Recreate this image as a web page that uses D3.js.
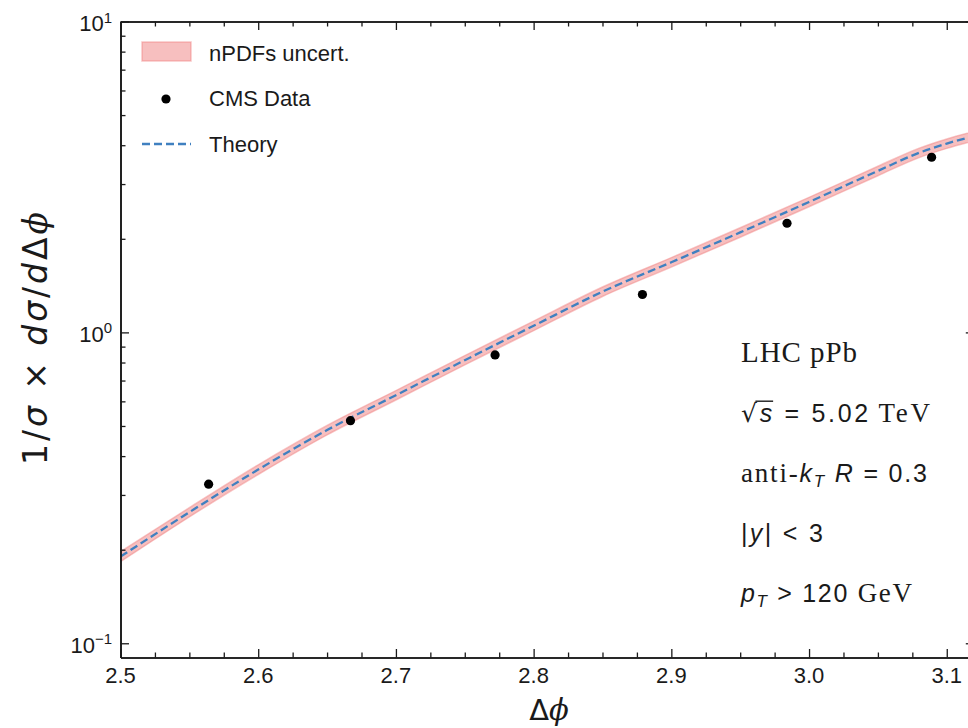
<!DOCTYPE html>
<html>
<head>
<meta charset="utf-8">
<script src="https://cdn.jsdelivr.net/npm/d3@7"></script>
<style>
  html, body { margin: 0; padding: 0; background: #fff; }
  svg { display: block; }
</style>
</head>
<body>
<svg id="chart" width="968" height="728"></svg>
<script>
// Azimuthal decorrelation of dijets, LHC pPb at 5.02 TeV

// Theory prediction (central value) and nPDF uncertainty envelope
const theoryPhi   = [2.50, 2.55, 2.60, 2.65, 2.70, 2.75, 2.80, 2.85, 2.90, 2.95, 3.00, 3.05, 3.08, 3.10, 3.12];
const theoryValue = [0.190, 0.264, 0.362, 0.485, 0.628, 0.814, 1.050, 1.352, 1.681, 2.097, 2.627, 3.307, 3.782, 4.049, 4.282];
const bandLower   = [0.183, 0.255, 0.349, 0.468, 0.606, 0.786, 1.013, 1.305, 1.622, 2.024, 2.535, 3.191, 3.650, 3.907, 4.132];
const bandUpper   = [0.197, 0.273, 0.375, 0.502, 0.650, 0.842, 1.087, 1.399, 1.740, 2.170, 2.719, 3.423, 3.914, 4.191, 4.432];

// CMS measurement
const dataPhi   = [2.564, 2.667, 2.772, 2.879, 2.984, 3.089];
const dataValue = [0.325, 0.520, 0.846, 1.324, 2.244, 3.659];

// Axis ticks
const xTicks = [2.5, 2.6, 2.7, 2.8, 2.9, 3.0, 3.1];
const xTickLabels = ["2.5", "2.6", "2.7", "2.8", "2.9", "3.0", "3.1"];
const yTicks = [0.1, 1, 10];
const yTickExponents = ["\u22121", "0", "1"];
const legendLabels = ["nPDFs uncert.", "CMS Data", "Theory"];

const svg = d3.select("#chart");
const plotLeft = 120.5, plotRight = 974.3, plotTop = 21.5, plotBottom = 657.5;

const x = d3.scaleLinear().domain([2.5, 3.12]).range([plotLeft, plotRight]);
const y = d3.scaleLog().domain([0.09, 10]).range([plotBottom, plotTop]);

const sans = "'Liberation Sans', Arial, sans-serif";
const serif = "'Liberation Serif', 'Times New Roman', serif";
const dejavu = "'DejaVu Sans', sans-serif";
const ink = "#1a1a1a";

svg.append("clipPath").attr("id", "plotClip")
  .append("rect").attr("x", plotLeft).attr("y", plotTop)
  .attr("width", plotRight - plotLeft).attr("height", plotBottom - plotTop);

const plot = svg.append("g").attr("clip-path", "url(#plotClip)");

// uncertainty band
const band = theoryPhi.map((p, i) => ({ p, lo: bandLower[i], hi: bandUpper[i] }));
plot.append("path")
  .datum(band)
  .attr("d", d3.area().x(d => x(d.p)).y0(d => y(d.lo)).y1(d => y(d.hi)).curve(d3.curveMonotoneX))
  .attr("fill", "#f08080").attr("fill-opacity", 0.5)
  .attr("stroke", "#f08080").attr("stroke-opacity", 0.45).attr("stroke-width", 1.5);

// theory central line
const theory = theoryPhi.map((p, i) => ({ p, v: theoryValue[i] }));
plot.append("path")
  .datum(theory)
  .attr("d", d3.line().x(d => x(d.p)).y(d => y(d.v)).curve(d3.curveMonotoneX))
  .attr("fill", "none")
  .attr("stroke", "#4080c0").attr("stroke-width", 2.3)
  .attr("stroke-dasharray", "8,4");

// data points
plot.selectAll("circle.data")
  .data(dataPhi.map((p, i) => ({ p, v: dataValue[i] })))
  .join("circle").attr("class", "data")
  .attr("cx", d => x(d.p)).attr("cy", d => y(d.v))
  .attr("r", 4.6).attr("fill", "#000");

// axes: ticks pointing inward on all four sides
const major = 8.5, minor = 5;
const xMinor = d3.range(2.5, 3.12 + 1e-9, 0.025).filter(v => Math.abs(v * 10 - Math.round(v * 10)) > 1e-6);
const yMinor = [];
[0.1, 1].forEach(dec => { for (let k = 2; k <= 9; k++) yMinor.push(k * dec); });

function styleAxis(g) {
  g.selectAll("path.domain").attr("stroke", ink).attr("stroke-width", 1.6);
  g.selectAll(".tick line").attr("stroke", ink).attr("stroke-width", 1.3);
  g.selectAll(".tick text").remove();
}

[[d3.axisBottom, plotBottom], [d3.axisTop, plotTop]].forEach(([ax, pos]) => {
  svg.append("g").attr("transform", `translate(0,${pos})`)
    .call(ax(x).tickValues(xTicks).tickSize(-major).tickSizeOuter(0)).call(styleAxis);
  svg.append("g").attr("transform", `translate(0,${pos})`)
    .call(ax(x).tickValues(xMinor).tickSize(-minor).tickSizeOuter(0)).call(styleAxis);
});
[[d3.axisLeft, plotLeft], [d3.axisRight, plotRight]].forEach(([ax, pos]) => {
  svg.append("g").attr("transform", `translate(${pos},0)`)
    .call(ax(y).tickValues(yTicks).tickSize(-major).tickSizeOuter(0)).call(styleAxis);
  svg.append("g").attr("transform", `translate(${pos},0)`)
    .call(ax(y).tickValues(yMinor).tickSize(-minor).tickSizeOuter(0)).call(styleAxis);
});

// x tick labels
svg.append("g").selectAll("text")
  .data(xTicks)
  .join("text")
  .attr("x", d => x(d)).attr("y", plotBottom + 25.8)
  .attr("text-anchor", "middle")
  .attr("font-family", sans).attr("font-size", 22).attr("fill", ink)
  .text((d, i) => xTickLabels[i]);

// y tick labels, powers of ten
const yl = svg.append("g").selectAll("text")
  .data(yTicks)
  .join("text")
  .attr("x", 112).attr("y", d => y(d) + 9.5)
  .attr("text-anchor", "end")
  .attr("font-family", sans).attr("font-size", 22).attr("fill", ink);
yl.append("tspan").text("10");
yl.append("tspan").attr("font-size", 15).attr("dy", -8.5).text((d, i) => yTickExponents[i]);

// axis titles
const xt = svg.append("text")
  .attr("x", 549).attr("y", 720).attr("text-anchor", "middle")
  .attr("font-family", dejavu).attr("font-size", 29).attr("fill", ink);
xt.append("tspan").text("\u0394");
xt.append("tspan").attr("font-style", "italic").attr("font-family", "'DejaVu Serif', serif").text("\u03d5");

const ytl = svg.append("text")
  .attr("transform", "translate(46.5,338.5) rotate(-90)")
  .attr("text-anchor", "middle")
  .attr("font-family", dejavu).attr("font-size", 33).attr("fill", ink)
  .attr("textLength", 253).attr("lengthAdjust", "spacing");
ytl.append("tspan").text("1/");
ytl.append("tspan").attr("font-style", "italic").text("\u03c3");
ytl.append("tspan").text(" \u00d7 ");
ytl.append("tspan").attr("font-style", "italic").text("d\u03c3");
ytl.append("tspan").text("/");
ytl.append("tspan").attr("font-style", "italic").text("d");
ytl.append("tspan").text("\u0394");
ytl.append("tspan").attr("font-style", "italic").attr("font-family", "'DejaVu Serif', serif").text("\u03d5");

// legend
const lg = svg.append("g");
lg.append("rect").attr("x", 142).attr("y", 42).attr("width", 49).attr("height", 19)
  .attr("fill", "#f08080").attr("fill-opacity", 0.5)
  .attr("stroke", "#f08080").attr("stroke-opacity", 0.45).attr("stroke-width", 1.5);
lg.append("circle").attr("cx", 166).attr("cy", 99).attr("r", 4.6).attr("fill", "#000");
lg.append("line").attr("x1", 142).attr("x2", 191).attr("y1", 144).attr("y2", 144)
  .attr("stroke", "#4080c0").attr("stroke-width", 2.3).attr("stroke-dasharray", "8,4");
lg.selectAll("text.leg")
  .data(legendLabels)
  .join("text").attr("class", "leg")
  .attr("x", 209).attr("y", (d, i) => 60.5 + i * 45.5)
  .attr("font-family", sans).attr("font-size", 22).attr("fill", ink)
  .text(d => d);

// run conditions
const ann = svg.append("g").attr("fill", ink);
const ax0 = 741;

ann.append("text").attr("x", ax0).attr("y", 362)
  .attr("font-family", serif).attr("font-size", 29)
  .attr("textLength", 116).attr("lengthAdjust", "spacing")
  .text("LHC pPb");

const rs = ann.append("text").attr("x", ax0).attr("y", 422)
  .attr("font-family", sans).attr("font-size", 25)
  .attr("textLength", 189).attr("lengthAdjust", "spacing");
rs.append("tspan").attr("font-family", dejavu).text("\u221a");
rs.append("tspan").attr("font-style", "italic").text("s");
rs.append("tspan").text(" = 5.02\u2009");
rs.append("tspan").attr("font-family", serif).attr("font-size", 27).text("TeV");

const ak = ann.append("text").attr("x", ax0).attr("y", 482)
  .attr("font-family", sans).attr("font-size", 25)
  .attr("textLength", 186).attr("lengthAdjust", "spacing");
ak.append("tspan").attr("font-family", serif).attr("font-size", 27).text("anti-");
ak.append("tspan").attr("font-style", "italic").text("k");
ak.append("tspan").attr("font-style", "italic").attr("font-size", 17).attr("dy", 5).text("T");
ak.append("tspan").attr("font-style", "italic").attr("dy", -5).text(" R");
ak.append("tspan").text(" = 0.3");

const ry = ann.append("text").attr("x", ax0).attr("y", 542)
  .attr("font-family", sans).attr("font-size", 25)
  .attr("textLength", 82).attr("lengthAdjust", "spacing");
ry.append("tspan").text("|");
ry.append("tspan").attr("font-style", "italic").text("y");
ry.append("tspan").text("| < 3");

const pt = ann.append("text").attr("x", ax0).attr("y", 602)
  .attr("font-family", sans).attr("font-size", 25)
  .attr("textLength", 171).attr("lengthAdjust", "spacing");
pt.append("tspan").attr("font-style", "italic").text("p");
pt.append("tspan").attr("font-style", "italic").attr("font-size", 17).attr("dy", 5).text("T");
pt.append("tspan").attr("dy", -5).text(" > 120 ");
pt.append("tspan").attr("font-family", serif).attr("font-size", 27).text("GeV");

// vinculum of the square root over s
const rNode = rs.node();
const rad = rNode.getExtentOfChar(0);
const sExt = rNode.getExtentOfChar(1);
ann.append("line")
  .attr("x1", rad.x + rad.width - 1.5).attr("x2", sExt.x + sExt.width + 1)
  .attr("y1", rad.y + 2.2).attr("y2", rad.y + 2.2)
  .attr("stroke", ink).attr("stroke-width", 1.4);
</script>
</body>
</html>
